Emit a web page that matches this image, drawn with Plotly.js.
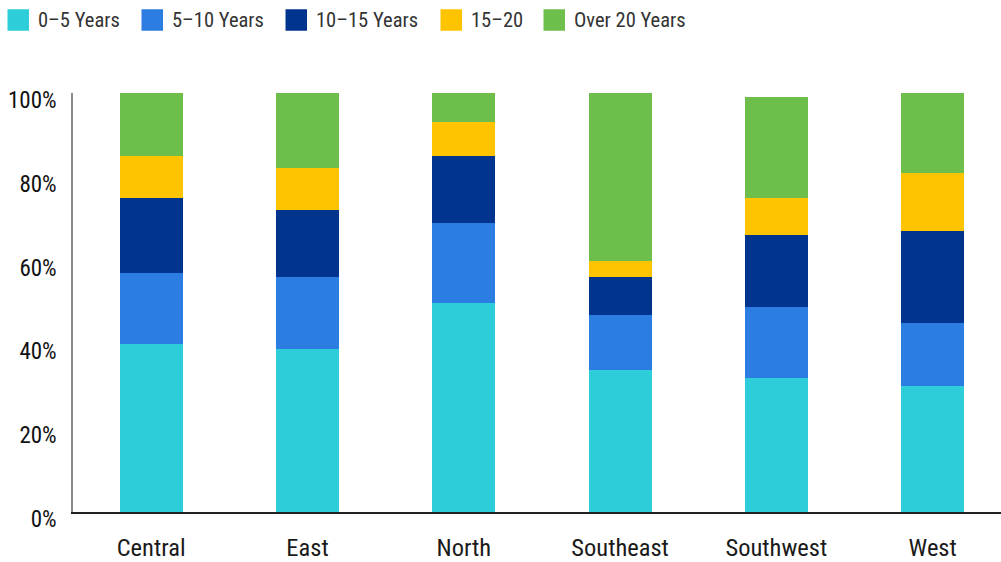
<!DOCTYPE html>
<html>
<head>
<meta charset="utf-8">
<script src="https://cdn.plot.ly/plotly-3.0.1.min.js"></script>
<style>
  html, body { margin: 0; padding: 0; background: #ffffff; }
  #chart { width: 1001px; height: 562px; }
</style>
</head>
<body>
<div id="chart"></div>
<script>
// Regions along the x axis
const regions = ['Central', 'East', 'North', 'Southeast', 'Southwest', 'West'];

// Share of each tenure band per region (percent)
const seriesNames = ['0\u20135 Years', '5\u201310 Years', '10\u201315 Years', '15\u201320', 'Over 20 Years'];
const years0to5   = [40, 39, 50, 34, 32, 30];
const years5to10  = [17, 17, 19, 13, 17, 15];
const years10to15 = [18, 16, 16,  9, 17, 22];
const years15to20 = [10, 10,  8,  4,  9, 14];
const over20      = [15, 18,  8, 40, 24, 19];

// Y-axis ticks
const yTickValues = [0, 20, 40, 60, 80, 100];
const yTickLabels = ['0%', '20%', '40%', '60%', '80%', '100%'];

const seriesValues = [years0to5, years5to10, years10to15, years15to20, over20];
const seriesColors = ['#2ecdda', '#2b7de1', '#00348d', '#ffc400', '#6dbe4b'];

const FONT = 'Roboto Condensed, Liberation Sans Narrow, Arial Narrow, Roboto, sans-serif';

const traces = seriesValues.map((vals, i) => ({
  type: 'bar',
  name: seriesNames[i],
  x: regions,
  y: vals,
  marker: { color: seriesColors[i], line: { width: 0 } },
  cliponaxis: false,
  hovertemplate: '%{x}<br>' + seriesNames[i] + ': %{y}%<extra></extra>'
}));

// Plot area geometry in pixels (used to place the custom legend)
const W = 1001, H = 562;
const M = { l: 73, r: 0, t: 93, b: 50 };
const plotW = W - M.l - M.r, plotH = H - M.t - M.b;
const toPaperX = px => (px - M.l) / plotW;
const toPaperY = py => (H - M.b - py) / plotH;

// Legend row: swatch squares followed by their labels
const legendTextX = [36, 170, 314, 469, 572];
const swatchSize = 21.5, swatchGap = 7, legendY = 20;

const shapes = [];
const annotations = [];
seriesNames.forEach((name, i) => {
  const sx1 = legendTextX[i] - swatchGap;
  const sx0 = sx1 - swatchSize;
  shapes.push({
    type: 'rect', xref: 'paper', yref: 'paper',
    x0: toPaperX(sx0), x1: toPaperX(sx1),
    y0: toPaperY(legendY + swatchSize / 2), y1: toPaperY(legendY - swatchSize / 2),
    fillcolor: seriesColors[i], line: { width: 0 }
  });
  annotations.push({
    xref: 'paper', yref: 'paper',
    x: toPaperX(legendTextX[i]), y: toPaperY(legendY),
    xanchor: 'left', yanchor: 'middle',
    text: name, showarrow: false,
    font: { family: FONT, size: 20.5, color: '#333333' }
  });
});

const layout = {
  width: W, height: H,
  margin: M,
  paper_bgcolor: '#ffffff',
  plot_bgcolor: '#ffffff',
  barmode: 'stack',
  bargap: 0.597,
  showlegend: false,
  xaxis: {
    type: 'category',
    range: [-0.5, 5.437],
    showgrid: false,
    zeroline: false,
    showline: true,
    linecolor: '#222222',
    linewidth: 1.5,
    layer: 'below traces',
    ticks: '',
    ticklabelstandoff: 13,
    tickfont: { family: FONT, size: 24.5, color: '#1a1a1a' },
    fixedrange: true
  },
  yaxis: {
    range: [0, 100],
    tickvals: yTickValues,
    ticktext: yTickLabels,
    showgrid: false,
    zeroline: false,
    showline: true,
    linecolor: '#8c8c8c',
    linewidth: 1.5,
    layer: 'below traces',
    ticks: '',
    ticklabelstandoff: 10,
    ticklabelshift: 7,
    tickfont: { family: FONT, size: 23, color: '#111111' },
    fixedrange: true
  },
  shapes: shapes,
  annotations: annotations
};

Plotly.newPlot('chart', traces, layout, { displayModeBar: false, staticPlot: false });
</script>
</body>
</html>
